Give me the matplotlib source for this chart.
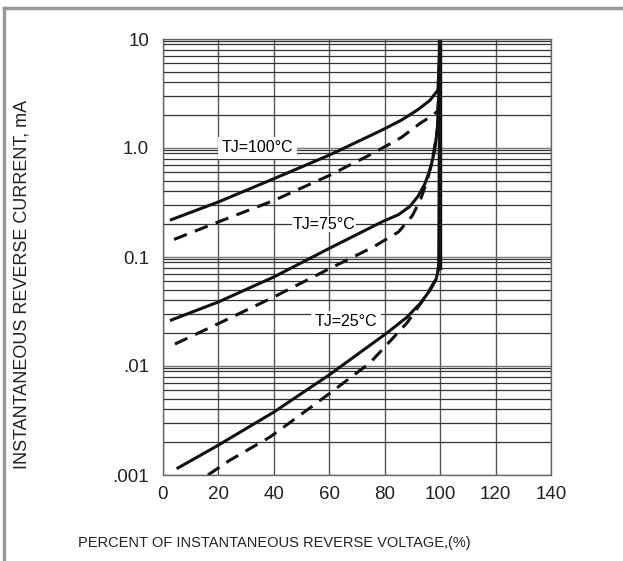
import numpy as np
import matplotlib.pyplot as plt
from matplotlib.lines import Line2D
from matplotlib.ticker import FixedLocator, NullFormatter

plt.rcParams['font.family'] = ['Liberation Sans', 'DejaVu Sans']

# percent of reverse voltage / current in mA
v100 = [3, 20, 39, 60, 79, 86, 92, 96.4, 99.2, 100]
i100 = [0.22, 0.32, 0.51, 0.86, 1.46, 1.8, 2.25, 2.75, 3.4, 10]
v100d = [4, 20, 40, 60, 76, 86, 93, 97.4, 99.2, 100]
i100d = [0.145, 0.21, 0.33, 0.56, 0.9, 1.25, 1.7, 2.0, 2.2, 10]

v75 = [3, 20, 40, 60, 79, 85, 89, 92, 94.5, 96.5, 98, 99, 99.5, 100]
i75 = [0.0264, 0.0387, 0.0656, 0.12, 0.21, 0.245, 0.29, 0.36, 0.47, 0.65, 0.95, 1.5, 3.0, 10]
v75d = [4.3, 20, 40, 60, 76, 85, 90, 93, 95.5, 97.5, 99, 99.6, 100]
i75d = [0.0159, 0.0245, 0.043, 0.078, 0.124, 0.17, 0.24, 0.34, 0.52, 0.85, 1.5, 3.0, 10]

v25 = [5.4, 20, 40, 60, 80.8, 88, 93, 96.4, 98.5, 99.5, 100]
i25 = [0.00116, 0.00188, 0.00378, 0.0083, 0.0201, 0.028, 0.038, 0.0498, 0.062, 0.08, 10]
v25d = [16.2, 24.2, 38.6, 53, 60.3, 74.7, 88, 94.6, 98.9, 99.8, 100]
i25d = [0.001, 0.00137, 0.00223, 0.00412, 0.00565, 0.0107, 0.0248, 0.043, 0.065, 0.1, 10]

xticks = [0, 20, 40, 60, 80, 100, 120, 140]
yticks = [0.001, 0.01, 0.1, 1, 10]
ylabels = ['.001', '.01', '0.1', '1.0', '10']

fig = plt.figure(figsize=(6.23, 5.61), dpi=100)
ax = fig.add_axes([163/623, 86/561, 388/623, 436/561])

ax.set_yscale('log')
ax.set_xlim(0, 140)
ax.set_ylim(0.001, 10)

ax.set_xticks(xticks)
ax.set_yticks(yticks)
ax.set_yticklabels(ylabels)
minor = []
for d in [0.001, 0.01, 0.1, 1]:
    minor += [k * d for k in range(2, 10)] + [9.5 * d]
ax.yaxis.set_minor_locator(FixedLocator(minor))
ax.yaxis.set_minor_formatter(NullFormatter())
ax.tick_params(which='both', length=0, labelsize=13.5, colors='#222222')
ax.tick_params(axis='x', pad=8)
ax.tick_params(axis='y', pad=10)

ax.grid(which='major', axis='y', color='#777777', linewidth=1.0)
ax.grid(which='minor', axis='y', color='#333333', linewidth=0.9)
ax.grid(which='major', axis='x', color='#555555', linewidth=1.0)
for s in ax.spines.values():
    s.set_color('#666666')
    s.set_linewidth(1.0)

lw = 2.2
ax.plot(v100, i100, color='#111111', lw=lw)
ax.plot(v100d, i100d, color='#111111', lw=lw, dashes=(4.5, 2.8))
ax.plot(v75, i75, color='#111111', lw=lw)
ax.plot(v75d, i75d, color='#111111', lw=lw, dashes=(4.5, 2.8))
ax.plot(v25, i25, color='#111111', lw=lw)
ax.plot(v25d, i25d, color='#111111', lw=lw, dashes=(4.5, 2.8))
ax.plot([100, 100], [0.08, 10], color='#111111', lw=3.2)

box = dict(facecolor='white', edgecolor='none', pad=2.5)
ax.text(34, 1.0, 'TJ=100°C', fontsize=11.5, ha='center', va='center', bbox=box)
ax.text(58, 0.2, 'TJ=75°C', fontsize=11.5, ha='center', va='center',
        bbox=dict(facecolor='white', edgecolor='none', pad=0.5))
ax.text(66, 0.0254, 'TJ=25°C', fontsize=11.5, ha='center', va='center', bbox=box)

fig.text(274/623, 1 - 543/561, 'PERCENT OF INSTANTANEOUS REVERSE VOLTAGE,(%)',
         fontsize=10.5, ha='center', va='center', color='#222222')
fig.text(22/623, 1 - 284/561, 'INSTANTANEOUS REVERSE CURRENT, mA',
         fontsize=13, rotation=90, ha='center', va='center', color='#222222')

# grey frame on top and left
fig.add_artist(Line2D([4/623, 1], [1 - 8/561, 1 - 8/561], color='#999999', lw=2.5))
fig.add_artist(Line2D([4/623, 4/623], [0, 1 - 8/561], color='#999999', lw=2.5))

fig.savefig('out.png', dpi=100)
